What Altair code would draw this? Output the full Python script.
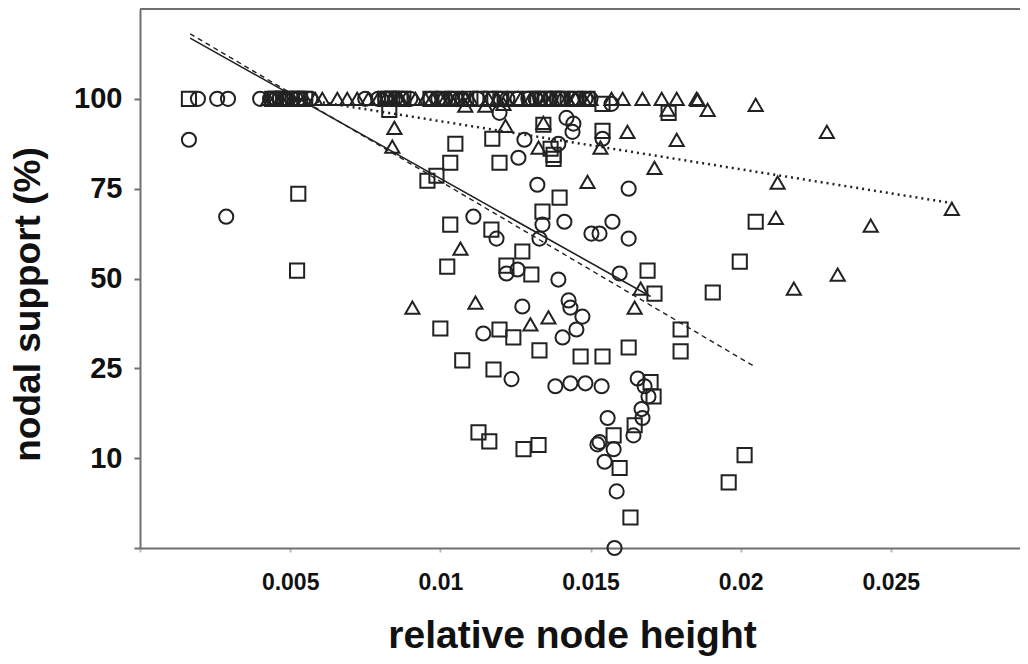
import altair as alt
import numpy as np
import pandas as pd

# ---- data: relative node height (x) and nodal support % (y)
circle_x = [0.00163, 0.00287,
            # 100 % row
            0.00193, 0.00257, 0.00293, 0.00400, 0.00433, 0.00453, 0.00477, 0.00490,
            0.00507, 0.00527, 0.00567, 0.00750, 0.00793, 0.00817, 0.00850, 0.00873,
            0.00900, 0.00967, 0.00993, 0.01017, 0.01040, 0.01073, 0.01123, 0.01173,
            0.01200, 0.01223, 0.01257, 0.01293, 0.01333, 0.01317, 0.01367, 0.01400,
            0.01440, 0.01460, 0.01483, 0.01500,
            # below
            0.01197, 0.01280, 0.01420, 0.01443, 0.01440, 0.01540, 0.01570, 0.01260,
            0.01393, 0.01323, 0.01627, 0.01110, 0.01340, 0.01413, 0.01573, 0.01187,
            0.01503, 0.01530, 0.01627, 0.01330, 0.01257, 0.01220, 0.01393, 0.01597,
            0.01427, 0.01433, 0.01473, 0.01453, 0.01407, 0.01273, 0.01143, 0.01237,
            0.01383, 0.01433, 0.01483, 0.01537, 0.01657, 0.01680, 0.01693, 0.01670,
            0.01673, 0.01557, 0.01643, 0.01530, 0.01523, 0.01577, 0.01547, 0.01587,
            0.01580]
circle_y = [88.6, 67.2,
            100, 100, 100, 100, 100, 100, 100, 100,
            100, 100, 100, 100, 100, 100, 100, 100,
            100, 100, 100, 100, 100, 100, 100, 100,
            100, 100, 100, 100, 100, 100, 100, 100,
            100, 100, 100, 100,
            96.1, 88.6, 94.7, 93.1, 90.8, 88.9, 98.6, 83.6,
            87.5, 76.1, 75.0, 67.2, 65.0, 65.8, 65.8, 61.1,
            62.5, 62.5, 61.1, 61.1, 52.5, 51.4, 49.7, 51.4,
            43.9, 41.9, 39.4, 35.8, 33.6, 42.2, 34.7, 23.2,
            22.0, 22.5, 22.5, 22.0, 23.3, 22.0, 20.3, 18.2,
            16.7, 16.7, 13.8, 12.7, 12.3, 11.5, 9.6, 6.3,
            0.0]

square_x = [0.00163, 0.00440, 0.00450, 0.00467, 0.00477, 0.00500, 0.00523, 0.00533,
            0.00550, 0.00817, 0.00827, 0.00840, 0.00877, 0.00867, 0.00967, 0.01007,
            0.01050, 0.01100, 0.01133, 0.01167, 0.01200, 0.01250, 0.01300, 0.01323,
            0.01350, 0.01377, 0.01390, 0.01407, 0.01450, 0.01490,
            0.00830, 0.00527, 0.00957, 0.00987, 0.01033, 0.01050, 0.01173, 0.01197,
            0.01343, 0.01367, 0.01377, 0.01377, 0.01540, 0.01540, 0.01760,
            0.01397, 0.01340, 0.01033, 0.01170, 0.01273, 0.01023, 0.01220, 0.01303,
            0.00523, 0.01690, 0.01713, 0.01000, 0.01197, 0.01243, 0.01330, 0.01467,
            0.01540, 0.01627, 0.01800, 0.01800, 0.01073, 0.01177, 0.01700, 0.01710,
            0.01647, 0.01127, 0.01163, 0.01277, 0.01327, 0.01577, 0.01597, 0.01633,
            0.02013, 0.01960, 0.01997, 0.01907, 0.02050]
square_y = [100, 100, 100, 100, 100, 100, 100, 100,
            100, 100, 100, 100, 100, 100, 100, 100,
            100, 100, 100, 100, 100, 100, 100, 100,
            100, 100, 100, 100, 100, 100,
            96.9, 73.6, 77.2, 78.6, 82.2, 87.5, 88.9, 82.2,
            92.8, 86.1, 84.4, 83.3, 91.1, 98.6, 96.1,
            72.5, 68.6, 65.0, 63.6, 57.5, 53.3, 53.6, 51.1,
            52.2, 52.2, 45.8, 36.1, 35.8, 33.6, 30.0, 28.3,
            28.3, 30.8, 35.8, 29.7, 27.2, 24.8, 22.7, 20.3,
            15.5, 14.3, 12.8, 11.5, 12.2, 13.8, 8.9, 3.4,
            10.5, 7.3, 54.7, 46.1, 65.8]

triangle_x = [0.00427, 0.00450, 0.00467, 0.00483, 0.00507, 0.00533, 0.00550, 0.00583,
              0.00607, 0.00657, 0.00690, 0.00723, 0.00760, 0.00817, 0.00793, 0.00840,
              0.00860, 0.00867, 0.00917, 0.00950, 0.00973, 0.01017, 0.01000, 0.01033,
              0.01050, 0.01083, 0.01067, 0.01100, 0.01160, 0.01217, 0.01190, 0.01267,
              0.01300, 0.01333, 0.01350, 0.01373, 0.01400, 0.01423, 0.01450, 0.01477,
              0.01500, 0.01570, 0.01607, 0.01673, 0.01737, 0.01787, 0.01853,
              0.01083, 0.01150, 0.01210, 0.00847, 0.00840, 0.01217, 0.01343, 0.01327,
              0.01533, 0.01757, 0.01623, 0.01787, 0.01713, 0.01490, 0.01857, 0.01890,
              0.02050, 0.02287, 0.02123, 0.02117, 0.02433, 0.02703, 0.02177, 0.02323,
              0.01067, 0.00907, 0.01117, 0.01360, 0.01300, 0.01667, 0.01647]
triangle_y = [100, 100, 100, 100, 100, 100, 100, 100,
              100, 100, 100, 100, 100, 100, 100, 100,
              100, 100, 100, 100, 100, 100, 100, 100,
              100, 100, 100, 100, 100, 100, 100, 100,
              100, 100, 100, 100, 100, 100, 100, 100,
              100, 100, 100, 100, 100, 100, 100,
              98.1, 98.1, 98.6, 91.9, 86.7, 92.5, 93.3, 86.4,
              86.4, 97.0, 90.8, 88.6, 80.8, 76.9, 99.7, 96.9,
              98.3, 90.8, 76.7, 66.9, 64.7, 69.4, 47.2, 51.1,
              58.3, 41.9, 43.3, 39.2, 37.2, 47.2, 41.9]

# regression lines (end points)
solid_x = [0.00167, 0.01700]
solid_y = [116.9, 45.0]
dashed_x = [0.00167, 0.02050]
dashed_y = [118.1, 25.3]
dotted_x = [0.00550, 0.02717]
dotted_y = [99.8, 70.8]

tick_pct = [0, 10, 25, 50, 75, 100]
tick_labels = ["", "10", "25", "50", "75", "100"]
x_ticks = [0, 0.005, 0.01, 0.015, 0.02, 0.025]


def to_pos(p):
    p = np.asarray(p, dtype=float)
    inside = np.interp(p, tick_pct, np.arange(len(tick_pct)))
    above = 5 + (p - 100) / 25.0
    return np.where(p > 100, above, inside)


def frame(xs, ys, shape):
    n = min(len(xs), len(ys))
    return pd.DataFrame({"x": xs[:n], "support": ys[:n], "pos": to_pos(ys[:n]), "shape": shape})


pts = pd.concat([
    frame(circle_x, circle_y, "circle"),
    frame(square_x, square_y, "square"),
    frame(triangle_x, triangle_y, "triangle"),
], ignore_index=True)

W, H = 880, 539
INK = "#222222"
AXC = "#707070"
FONT = "Liberation Sans"

xscale = alt.Scale(domain=[0, 0.0293], nice=False, zero=False)
yscale = alt.Scale(domain=[0, 6], nice=False, zero=False)

label_js = "[" + ", ".join("'%s'" % t for t in tick_labels) + "][datum.value]"

xaxis = alt.Axis(values=x_ticks, labelExpr="datum.value == 0 ? '' : format(datum.value, '')",
                 title="relative node height", titleFontSize=39, titleFont=FONT,
                 titleFontWeight="bold", titleColor="#111", titleX=432, titleY=99,
                 titleBaseline="alphabetic", labelFont=FONT, labelFontSize=23,
                 labelFontWeight="bold", labelColor="#111", labelPadding=19, tickSize=4,
                 grid=False, domainColor=AXC, domainWidth=2, tickColor="#bbbbbb", tickWidth=2)
yaxis = alt.Axis(values=[0, 1, 2, 3, 4, 5], labelExpr=label_js,
                 title="nodal support (%)", titleFontSize=37, titleFont=FONT,
                 titleFontWeight="bold", titleColor="#111", titleX=-112, titleY=295,
                 titleBaseline="middle", titleAngle=-90, labelFont=FONT, labelFontSize=29,
                 labelFontWeight="bold", labelColor="#111", labelPadding=12, tickSize=6,
                 grid=False, domainColor=AXC, domainWidth=2, tickColor=AXC, tickWidth=2)

points = alt.Chart(pts).mark_point(filled=False, strokeWidth=2, color=INK, opacity=1).encode(
    x=alt.X("x:Q", scale=xscale, axis=xaxis),
    y=alt.Y("pos:Q", scale=yscale, axis=yaxis),
    shape=alt.Shape("shape:N", scale=alt.Scale(domain=["circle", "square", "triangle"],
                                               range=["circle", "square", "triangle-up"]),
                    legend=None),
    size=alt.Size("shape:N", scale=alt.Scale(domain=["circle", "square", "triangle"],
                                             range=[200, 200, 240]), legend=None),
)


def line(xs, ys, dash, width):
    df = pd.DataFrame({"x": xs, "pos": to_pos(ys)})
    kw = {"strokeWidth": width, "color": INK}
    if dash:
        kw["strokeDash"] = dash
    return alt.Chart(df).mark_line(**kw).encode(
        x=alt.X("x:Q", scale=xscale), y=alt.Y("pos:Q", scale=yscale))


top = alt.Chart(pd.DataFrame({"a": [0]})).mark_rule(color=AXC, strokeWidth=2).encode(
    x=alt.value(0), x2=alt.value(W), y=alt.value(0))

chart = alt.layer(
    top,
    line(solid_x, solid_y, None, 1.6),
    line(dashed_x, dashed_y, [5, 4], 1.4),
    line(dotted_x, dotted_y, [2, 4], 2.5),
    points,
).properties(
    width=W, height=H,
    autosize=alt.AutoSizeParams(type="none"),
    padding={"left": 132, "top": 1, "right": 0, "bottom": 108},
).configure_view(stroke=None).configure(background="white")

chart.save("out.html", embed_options={"renderer": "svg", "actions": False})
